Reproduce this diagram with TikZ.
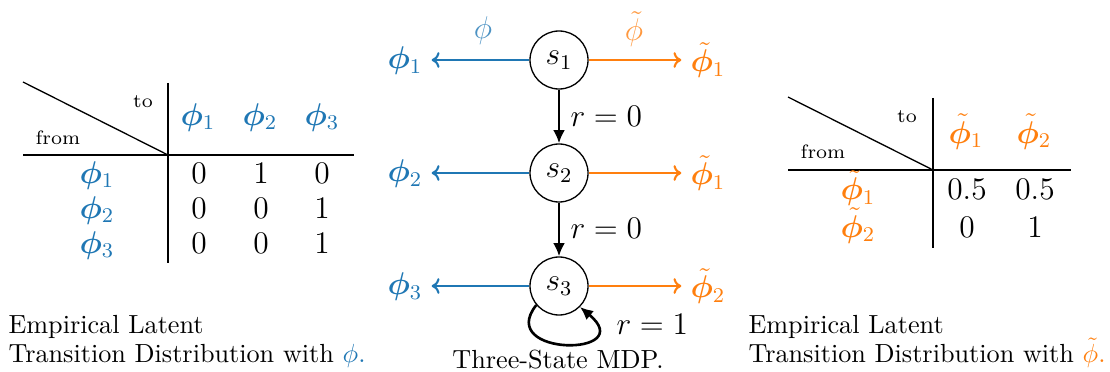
\documentclass[tikz,border=0pt]{standalone}
\usepackage{amsmath,bm}
\usetikzlibrary{arrows.meta}
\definecolor{tabblue}{RGB}{31,119,180}
\definecolor{taborange}{RGB}{255,127,14}
\begin{document}
\begin{tikzpicture}[x=0.3817pt,y=-0.3817pt,
  every node/.style={font=\large},
  state/.style={draw,circle,minimum size=58*0.3817pt,inner sep=0pt,line width=0.5pt},
  tline/.style={line width=0.6pt},
  small/.style={font=\fontsize{7.4}{9}\selectfont,anchor=base},
  cell/.style={anchor=base},
  captext/.style={font=\normalsize,inner sep=0pt},
  barrow/.style={tabblue,line width=0.8pt,-{To[length=3pt,width=6pt]}},
  oarrow/.style={taborange,line width=0.8pt,-{To[length=3pt,width=6pt]}},
  karrow/.style={line width=1pt,-{Latex[length=5pt,width=4.5pt]}}]
\useasboundingbox (0,0) rectangle (1110,372);
% ---------- left table
\coordinate (lc) at (168,155);
\coordinate (lt) at (168,83);
\coordinate (lb) at (168,263);
\coordinate (ll) at (23,155);
\coordinate (lr) at (354,155);
\coordinate (ld) at (23,82);
\draw[tline] (lt) -- (lb);
\draw[tline] (ll) -- (lr);
\draw[line width=0.5pt] (ld) -- (lc);
\node[small] (lto) at (143,107) {to};
\node[small] (lfrom) at (58,144) {from};
\node[cell,tabblue] (lh1) at (198,125) {$\bm{\phi}_1$};
\node[cell,tabblue] (lh2) at (260,125) {$\bm{\phi}_2$};
\node[cell,tabblue] (lh3) at (322,125) {$\bm{\phi}_3$};
\node[cell,tabblue] (lr1) at (97,183) {$\bm{\phi}_1$};
\node[cell,tabblue] (lr2) at (97,218) {$\bm{\phi}_2$};
\node[cell,tabblue] (lr3) at (97,253) {$\bm{\phi}_3$};
\node[cell] (l11) at (199,183) {$0$};
\node[cell] (l12) at (261,183) {$1$};
\node[cell] (l13) at (322,183) {$0$};
\node[cell] (l21) at (199,218) {$0$};
\node[cell] (l22) at (261,218) {$0$};
\node[cell] (l23) at (322,218) {$1$};
\node[cell] (l31) at (199,253) {$0$};
\node[cell] (l32) at (261,253) {$0$};
\node[cell] (l33) at (322,253) {$1$};
\node[captext,anchor=base west] (lcap1) at (8,333) {Empirical Latent};
\node[captext,anchor=base west] (lcap2) at (8,362) {Transition Distribution with \textcolor{tabblue}{$\phi$.}};
% ---------- right table
\coordinate (rc) at (933,170);
\coordinate (rt) at (933,98);
\coordinate (rb) at (933,248);
\coordinate (rl) at (788,170);
\coordinate (rr) at (1071,170);
\coordinate (rd) at (788,97);
\draw[tline] (rt) -- (rb);
\draw[tline] (rl) -- (rr);
\draw[line width=0.5pt] (rd) -- (rc);
\node[small] (rto) at (907,123) {to};
\node[small] (rfrom) at (823,158) {from};
\node[cell,taborange] (rh1) at (966,143) {$\tilde{\bm{\phi}}_1$};
\node[cell,taborange] (rh2) at (1034,143) {$\tilde{\bm{\phi}}_2$};
\node[cell,taborange] (rr1) at (858,200) {$\tilde{\bm{\phi}}_1$};
\node[cell,taborange] (rr2) at (858,237) {$\tilde{\bm{\phi}}_2$};
\node[cell] (r11) at (967,199) {$0.5$};
\node[cell] (r12) at (1035,199) {$0.5$};
\node[cell] (r21) at (967,237) {$0$};
\node[cell] (r22) at (1035,237) {$1$};
\node[captext,anchor=base west] (rcap1) at (748,333) {Empirical Latent};
\node[captext,anchor=base west] (rcap2) at (748,362) {Transition Distribution with \textcolor{taborange}{$\tilde{\phi}$.}};
% ---------- MDP
\node[state] (s1) at (559,60) {$s_1$};
\node[state] (s2) at (559,173) {$s_2$};
\node[state] (s3) at (559,286) {$s_3$};
\node[tabblue] (p1) at (405,61) {$\bm{\phi}_1$};
\node[tabblue] (p2) at (405,174) {$\bm{\phi}_2$};
\node[tabblue] (p3) at (405,287) {$\bm{\phi}_3$};
\node[taborange] (q1) at (708,60) {$\tilde{\bm{\phi}}_1$};
\node[taborange] (q2) at (708,173) {$\tilde{\bm{\phi}}_1$};
\node[taborange] (q3) at (708,286) {$\tilde{\bm{\phi}}_2$};
\node[tabblue!80] (phil) at (483,31) {$\phi$};
\node[taborange!80] (phir) at (634,29) {$\tilde{\phi}$};
\draw[barrow] (s1) -- (p1.east |- s1);
\draw[barrow] (s2) -- (p2.east |- s2);
\draw[barrow] (s3) -- (p3.east |- s3);
\draw[oarrow] (s1) -- (q1.west |- s1);
\draw[oarrow] (s2) -- (q2.west |- s2);
\draw[oarrow] (s3) -- (q3.west |- s3);
\draw[karrow] (s1) -- (s2);
\draw[karrow] (s2) -- (s3);
\node[anchor=base west,inner sep=0pt] (r0a) at (570,127) {$r=0$};
\node[anchor=base west,inner sep=0pt] (r0b) at (570,238) {$r=0$};
\draw[karrow] (s3.220) .. controls (495,357) and (640,357) .. (s3.315);
\node[anchor=base west,inner sep=0pt] (r1) at (616,334) {$r=1$};
\node[captext,anchor=base] (cap) at (558,368) {Three-State MDP.};
\end{tikzpicture}
\end{document}
